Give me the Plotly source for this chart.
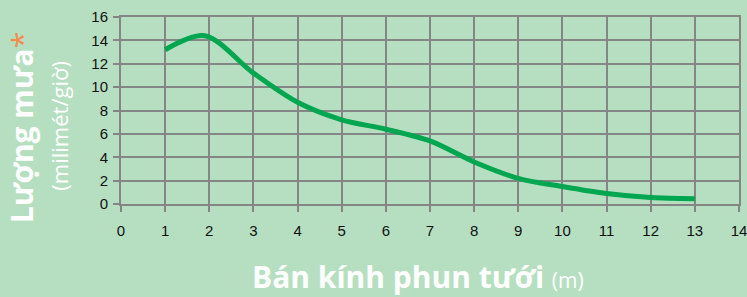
import plotly.graph_objects as go

radius_m = [1, 1.9, 3, 4, 5, 6, 7, 8, 9, 10, 11, 12, 13]
rain_mm_h = [13.2, 14.4, 11.2, 8.7, 7.2, 6.4, 5.4, 3.6, 2.2, 1.5, 0.9, 0.55, 0.45]
x_ticks = list(range(0, 15))
y_ticks = list(range(0, 17, 2))

BG = "#b6dfc1"
GRID = "#858585"
LINE = "#00a650"
FONT = "Open Sans"

fig = go.Figure()
fig.add_trace(go.Scatter(
    x=radius_m, y=rain_mm_h, mode="lines",
    line=dict(color=LINE, width=5, shape="spline", smoothing=0.9),
    hoverinfo="skip", showlegend=False,
))

axis_common = dict(
    showgrid=True, gridcolor=GRID, gridwidth=2,
    showline=True, linecolor=GRID, linewidth=2, mirror=True,
    ticks="outside", tickcolor=GRID, tickwidth=2, ticklen=6,
    zeroline=False, automargin=False, ticklabeloverflow="allow",
    tickfont=dict(family="Arial", size=15, color="#111111"),
)
fig.update_xaxes(range=[0, 14], tickvals=x_ticks, ticklabelstandoff=6, **axis_common)
fig.update_yaxes(range=[0, 16], tickvals=y_ticks, ticklabelstandoff=2, **axis_common)

fig.add_annotation(
    xref="paper", yref="paper", x=0.48, y=-0.39, xanchor="center", yanchor="middle",
    text="<b>Bán kính phun tưới</b> <span style='font-size:21px'>(m)</span>",
    showarrow=False, font=dict(family=FONT, size=30, color="white"),
    borderpad=0,
)
fig.add_annotation(
    xref="paper", yref="paper", x=-0.162, y=0.41, xanchor="center", yanchor="middle",
    text="<b>Lượng mưa</b><span style='color:#f58a4b'>*</span>",
    textangle=-90, showarrow=False, font=dict(family=FONT, size=30, color="white"),
)
fig.add_annotation(
    xref="paper", yref="paper", x=-0.1, y=0.42, xanchor="center", yanchor="middle",
    text="(milimét/giờ)",
    textangle=-90, showarrow=False, font=dict(family=FONT, size=22, color="white"),
)

fig.update_layout(
    width=747, height=297,
    margin=dict(l=121, r=8, t=17, b=93),
    paper_bgcolor=BG, plot_bgcolor=BG,
)
fig.write_html(
    "out.html",
    config={"displayModeBar": False},
    post_script="document.body.style.margin='0';document.body.style.background='" + BG + "';",
)
